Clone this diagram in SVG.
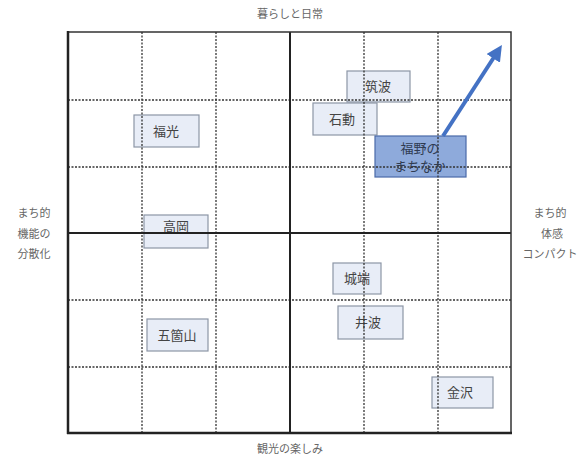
<svg xmlns="http://www.w3.org/2000/svg" width="586" height="461" viewBox="0 0 586 461">
<style>
.dash{stroke:#333;stroke-width:1.3;stroke-dasharray:2 1.5;fill:none}
.solid{stroke:#222;stroke-width:2;fill:none}
.box rect{fill:#e8edf7;stroke:#8c96a6;stroke-width:1.2}
.box text{font-family:"Noto Sans CJK JP","Noto Sans CJK SC",sans-serif;font-size:13px;fill:#444;text-anchor:middle}
.hl rect{fill:#8eaadb;stroke:#4a6aa8;stroke-width:1.2}
.hl text{fill:#2f3b52}
.ax{font-family:"Noto Sans CJK JP","Noto Sans CJK SC",sans-serif;font-size:11px;fill:#666;text-anchor:middle}
</style>
<defs>
<marker id="ah" markerWidth="4" markerHeight="4" refX="2.2" refY="2" orient="auto" markerUnits="strokeWidth">
<path d="M0,0 L4,2 L0,4 Z" fill="#4472c4"/>
</marker>
</defs>
<rect width="586" height="461" fill="#fff"/>
<g id="n-tsukuba" class="box"><rect x="347" y="71" width="63" height="31"/><text x="378" y="91">筑波</text></g>
<g id="n-isurugi" class="box"><rect x="313" y="103" width="64" height="32"/><text x="342" y="124">石動</text></g>
<g id="n-fukuno" class="box hl"><rect x="375" y="136" width="91" height="41"/><text x="420" y="153">福野の</text><text x="420" y="171">まちなか</text></g>
<g id="n-fukumitsu" class="box"><rect x="134" y="115" width="65" height="32"/><text x="166" y="136">福光</text></g>
<g id="n-takaoka" class="box"><rect x="144" y="215" width="64" height="33"/><text x="176" y="231">高岡</text></g>
<g id="n-johana" class="box"><rect x="333" y="263" width="48" height="31"/><text x="357" y="283">城端</text></g>
<g id="n-inami" class="box"><rect x="338" y="306" width="65" height="33"/><text x="368" y="327">井波</text></g>
<g id="n-gokayama" class="box"><rect x="147" y="319" width="61" height="32"/><text x="177" y="340">五箇山</text></g>
<g id="n-kanazawa" class="box"><rect x="432" y="377" width="61" height="31"/><text x="460" y="397">金沢</text></g>
<g id="grid">
<line class="dash" x1="142" y1="32" x2="142" y2="433"/>
<line class="dash" x1="216" y1="32" x2="216" y2="433"/>
<line class="dash" x1="364" y1="32" x2="364" y2="433"/>
<line class="dash" x1="438" y1="32" x2="438" y2="433"/>
<line class="dash" x1="68" y1="100" x2="511" y2="100"/>
<line class="dash" x1="68" y1="167" x2="511" y2="167"/>
<line class="dash" x1="68" y1="300" x2="511" y2="300"/>
<line class="dash" x1="68" y1="367" x2="511" y2="367"/>
<line class="solid" x1="290" y1="32" x2="290" y2="433"/>
<line class="solid" x1="68" y1="233" x2="511" y2="233"/>
<rect x="68" y="32" width="443" height="401" fill="none" stroke="#333" stroke-width="1.5"/>
<line x1="68" y1="31" x2="68" y2="434" stroke="#222" stroke-width="2.5"/>
<line x1="67" y1="433" x2="512" y2="433" stroke="#222" stroke-width="2.5"/>
</g>
<g id="labels">
<text class="ax" x="290" y="18">暮らしと日常</text>
<text class="ax" x="290" y="453">観光の楽しみ</text>
<text class="ax" x="34" y="217">まち的</text>
<text class="ax" x="34" y="238">機能の</text>
<text class="ax" x="34" y="258">分散化</text>
<text class="ax" x="550" y="217">まち的</text>
<text class="ax" x="552" y="238">体感</text>
<text class="ax" x="550" y="258">コンパクト</text>
</g>
<g id="connectors">
<line x1="443" y1="136" x2="498" y2="51" stroke="#4472c4" stroke-width="4" marker-end="url(#ah)"/>
</g>
</svg>
